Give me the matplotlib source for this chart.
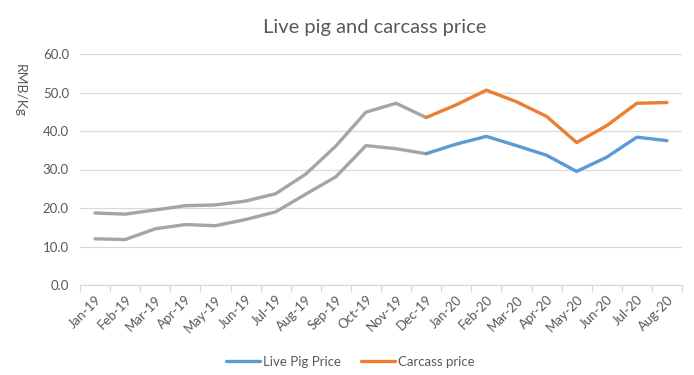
import matplotlib
matplotlib.use("Agg")
import matplotlib.pyplot as plt
import numpy as np

months = ["Jan-19", "Feb-19", "Mar-19", "Apr-19", "May-19", "Jun-19", "Jul-19",
          "Aug-19", "Sep-19", "Oct-19", "Nov-19", "Dec-19", "Jan-20", "Feb-20",
          "Mar-20", "Apr-20", "May-20", "Jun-20", "Jul-20", "Aug-20"]

# 2019 history (grey), Jan-19 .. Dec-19
live_2019 = [12.0, 11.8, 14.6, 15.7, 15.4, 17.0, 19.0, 23.6, 28.1, 36.2, 35.4, 34.1]
carcass_2019 = [18.7, 18.4, 19.5, 20.6, 20.8, 21.8, 23.7, 28.8, 36.1, 44.9, 47.2, 43.5]

# highlighted series, Dec-19 .. Aug-20
live_pig_price = [34.1, 36.6, 38.6, 36.2, 33.7, 29.5, 33.2, 38.4, 37.5]
carcass_price = [43.5, 46.8, 50.6, 47.6, 43.8, 37.0, 41.4, 47.2, 47.4]

plt.rcParams['font.family'] = ['Lato', 'DejaVu Sans']
txt = '#595959'

fig = plt.figure(figsize=(6.94, 3.75), dpi=100)
ax = fig.add_axes([80/694, 1-285/375, (682-80)/694, (285-54)/375])

x_all = np.arange(len(months))
x19 = x_all[:12]
x20 = x_all[11:]

kw = dict(lw=2.4, solid_capstyle='round', solid_joinstyle='round')
ax.plot(x19, carcass_2019, color='#A5A5A5', zorder=3, **kw)
ax.plot(x19, live_2019, color='#A5A5A5', zorder=3, **kw)
l1, = ax.plot(x20, live_pig_price, color='#5B9BD5', zorder=4, label='Live Pig Price', **kw)
l2, = ax.plot(x20, carcass_price, color='#ED7D31', zorder=4, label='Carcass price', **kw)

ax.set_xlim(-0.5, len(months) - 0.5)
ax.set_ylim(0, 60)
ax.set_yticks(np.arange(0, 61, 10))
ax.set_yticklabels([f"{v:.1f}" for v in np.arange(0, 61, 10)], color=txt, fontsize=9.5)
ax.yaxis.grid(True, color='#D9D9D9', lw=0.9)
ax.set_axisbelow(True)

ax.set_xticks(x_all)
ax.set_xticklabels(months, rotation=45, ha='right', rotation_mode='anchor', color=txt, fontsize=9.5)
ax.set_xticks(np.arange(-0.5, len(months), 1), minor=True)
ax.tick_params(axis='x', which='major', length=0, pad=6)
ax.tick_params(axis='x', which='minor', length=5, color='#D9D9D9', width=0.9)
ax.tick_params(axis='y', length=0, pad=8)

for s in ['top', 'right', 'left']:
    ax.spines[s].set_visible(False)
ax.spines['bottom'].set_color('#D9D9D9')
ax.spines['bottom'].set_linewidth(0.9)

fig.text(20/694, 1-90/375, 'RMB/Kg', ha='center', va='center', rotation=-90, color=txt, fontsize=10)

fig.text(375/694, 1-27/375, 'Live pig and carcass price', ha='center', va='center', color=txt, fontsize=14.5)

fig.legend(handles=[l1, l2], loc='center', bbox_to_anchor=(350/694, 1-362/375), ncol=2, frameon=False,
           fontsize=9.5, labelcolor=txt, handlelength=2.6, columnspacing=1.5, handletextpad=0.2)

fig.savefig('out.png', dpi=100)
